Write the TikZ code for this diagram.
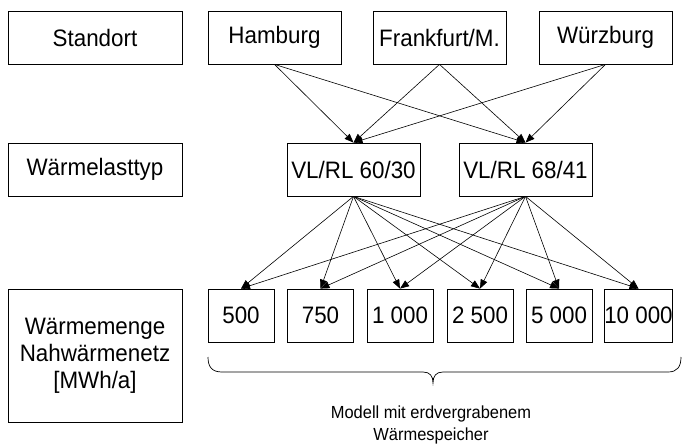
\documentclass[tikz,border=0pt]{standalone}
\usepackage{fontspec}
\setmainfont[FakeStretch=0.94]{Liberation Sans}
\usetikzlibrary{arrows.meta}
\begin{document}
\begin{tikzpicture}[x=1pt,y=-1pt,
  box/.style={draw, line width=0.8pt, inner sep=0pt, minimum height=53pt,
    font=\fontsize{23.8}{27}\selectfont, align=center},
  wide/.style={box, minimum width=174pt},
  mid/.style={box, minimum width=133pt},
  small/.style={box, minimum width=66pt},
  arr/.style={line width=0.6pt, -{Triangle[length=9pt,width=7pt]}},
  lbl/.style={font=\fontsize{17.5}{22}\selectfont, align=center, inner sep=0pt}]
\useasboundingbox (0,0) rectangle (682,446);
% row 1
\node[wide] (standort) at (95,37.5) {Standort};
\node[mid] (ham) at (274.5,37.5) {Hamburg};
\node[mid] (fra) at (439.5,37.5) {Frankfurt/M.};
\node[mid] (wue) at (605.5,37.5) {Würzburg};
% row 2
\node[wide] (typ) at (95,169.5) {Wärmelasttyp};
\node[mid] (vla) at (353.5,169.5) {VL/RL 60/30};
\node[mid] (vlb) at (525.5,169.5) {VL/RL 68/41};
% row 3
\node[wide, minimum height=133pt] (menge) at (95,355.5) {Wärmemenge\\Nahwärmenetz\\{}[MWh/a]};
\node[small] (q1) at (241,315.5) {500};
\node[small] (q2) at (320.5,315.5) {750};
\node[small] (q3) at (400,315.5) {1 000};
\node[small] (q4) at (480,315.5) {2 500};
\node[small] (q5) at (559,315.5) {5 000};
\node[small] (q6) at (638.5,315.5) {10 000};
% arrows row1 -> row2
\foreach \s in {ham,fra,wue}{
  \draw[arr] (\s.south) -- (vla.north);
  \draw[arr] (\s.south) -- (vlb.north);
}
% arrows row2 -> row3
\foreach \t in {q1,q2,q3,q4,q5,q6}{
  \draw[arr] (vla.south) -- (\t.north);
  \draw[arr] (vlb.south) -- (\t.north);
}
% brace
\coordinate (bl) at (208,357);
\coordinate (br) at (681,357);
\coordinate (bt) at (433,383);
\draw[line width=0.7pt] (bl) .. controls (208,367) and (212,372) .. (222,372)
  -- (423,372) .. controls (430,372) and (433,376) .. (bt)
  .. controls (433,376) and (436,372) .. (443,372)
  -- (668,372) .. controls (677,372) and (681,367) .. (br);
\node[lbl] (modell) at (431,425) {Modell mit erdvergrabenem\\Wärmespeicher};
\end{tikzpicture}
\end{document}
